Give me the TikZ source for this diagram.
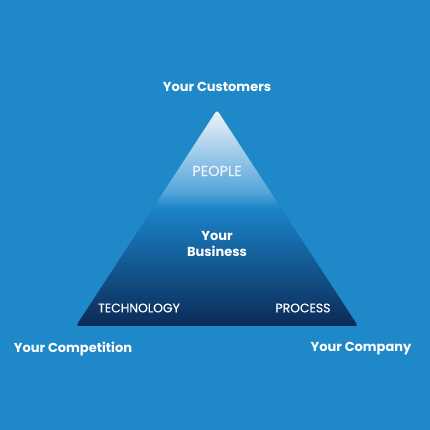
\documentclass[tikz,border=0pt]{standalone}
\usepackage{fontspec}
\setmainfont{Poppins}
\newfontfamily\sidefont{Poppins}[FakeBold=0.4]
\definecolor{bg}{HTML}{1E88C8}
\definecolor{topw}{HTML}{F0F4FA}
\definecolor{topb}{HTML}{55A5DA}
\definecolor{midb}{HTML}{1A84C8}
\definecolor{botb}{HTML}{0C2A57}
\pgfdeclareverticalshading{pyr}{100bp}{color(0bp)=(botb); color(25bp)=(botb); color(52.3bp)=(midb); color(56bp)=(topb); color(75bp)=(topw); color(100bp)=(topw)}
\begin{document}
\begin{tikzpicture}[x=1pt,y=1pt,
  lbl/.style={text=white,font=\fontsize{13}{16}\selectfont\bfseries,align=center,inner sep=0pt},
  side/.style={text=white,font=\sidefont\fontsize{12.4}{14}\selectfont,inner sep=0pt}]
\fill[bg] (0,0) rectangle (430,430);
\useasboundingbox (0,0) rectangle (430,430);
\coordinate (apex) at (217,320);
\coordinate (bl) at (76,104);
\coordinate (br) at (358,104);
\shade[shading=pyr,rounded corners=3pt] (apex) -- (br) -- (bl) -- cycle;
\node[lbl] (cust) at (217,343) {Your Customers};
\node[side,text=topw,font=\sidefont\fontsize{14.5}{16}\selectfont] (people) at (217,259) {PEOPLE};
\node[lbl] (biz) at (217,186) {Your\\Business};
\node[side] (tech) at (139,122) {TECHNOLOGY};
\node[side] (proc) at (303,122) {PROCESS};
\node[lbl] (comp) at (73,81) {Your Competition};
\node[lbl] (company) at (361,81) {Your Company};
\end{tikzpicture}
\end{document}
